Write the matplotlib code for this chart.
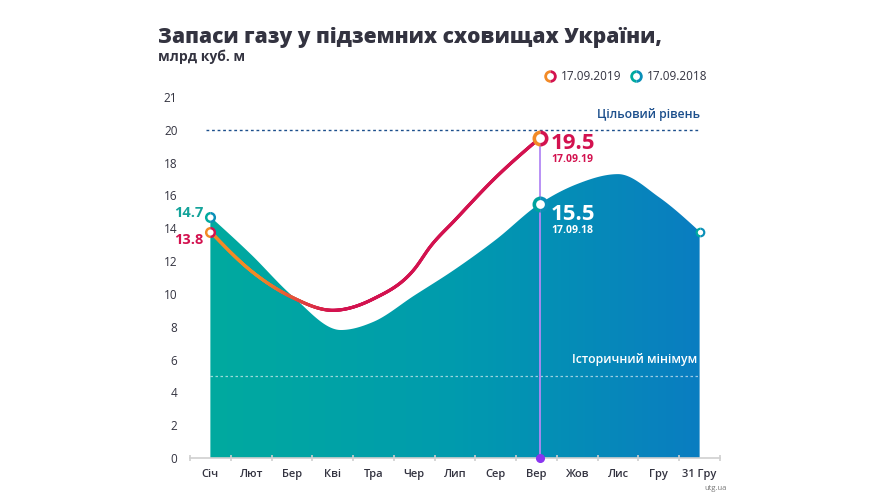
import numpy as np
import matplotlib
matplotlib.use('Agg')
import matplotlib.pyplot as plt
from matplotlib.patches import Polygon
from matplotlib.collections import LineCollection
from matplotlib.colors import LinearSegmentedColormap, to_rgb

plt.rcParams['font.family'] = ['Open Sans', 'DejaVu Sans']

# ---------------- data ----------------
months = ['Січ', 'Лют', 'Бер', 'Кві', 'Тра', 'Чер', 'Лип', 'Сер', 'Вер',
          'Жов', 'Лис', 'Гру', '31 Гру']
y_ticks = [0, 2, 4, 6, 8, 10, 12, 14, 16, 18, 20, 22]
y_tick_labels = ['0', '2', '4', '6', '8', '10', '12', '14', '16', '18', '20', '21']

# 2018 (area), x in month positions
x2018 = [0, 1, 2, 3.2, 4, 5, 6, 7, 8.08, 9, 10, 11, 12]
v2018 = [14.7, 12.4, 9.9, 7.8, 8.3, 9.9, 11.5, 13.3, 15.5, 16.7, 17.3, 15.9, 13.8]
# 2019 (line)
x2019 = [0, 1, 2, 3, 4, 5, 5.4, 6, 7, 8.08]
v2019 = [13.8, 11.4, 9.8, 9.0, 9.7, 11.5, 12.9, 14.5, 17.1, 19.5]

target_level = 20
hist_min = 5
sep_x = 8.08
label_2019 = '17.09.2019'
label_2018 = '17.09.2018'


def monotone_x(x, y, xs):
    x = np.asarray(x, float); y = np.asarray(y, float)
    h = np.diff(x); s = np.diff(y) / h
    n = len(x); m = np.zeros(n)
    for i in range(1, n - 1):
        p = (s[i - 1] * h[i] + s[i] * h[i - 1]) / (h[i - 1] + h[i])
        m[i] = (np.sign(s[i - 1]) + np.sign(s[i])) * min(abs(s[i - 1]), abs(s[i]), 0.5 * abs(p))
    m[0] = (3 * s[0] - m[1]) / 2
    m[-1] = (3 * s[-1] - m[-2]) / 2
    ys = np.empty_like(xs)
    idx = np.clip(np.searchsorted(x, xs) - 1, 0, n - 2)
    for k, xv in enumerate(xs):
        i = idx[k]
        t = (xv - x[i]) / h[i]
        h00 = 2 * t**3 - 3 * t**2 + 1; h10 = t**3 - 2 * t**2 + t
        h01 = -2 * t**3 + 3 * t**2; h11 = t**3 - t**2
        ys[k] = h00 * y[i] + h10 * h[i] * m[i] + h01 * y[i + 1] + h11 * h[i] * m[i + 1]
    return ys


fig = plt.figure(figsize=(8.74, 5.0), dpi=100)
ax = fig.add_axes([190 / 874, 1 - 458 / 500, 530 / 874, 361 / 500])
ax.set_xlim(-0.49, 12.49)
ax.set_ylim(0, 22)

teal = '#00AA9F'
blue = '#0A7DC1'
red = '#D3124F'
orange = '#F28A26'
dark = '#333340'
navy = '#1C4F8C'

# ---- area with horizontal gradient ----
xs18 = np.linspace(x2018[0], x2018[-1], 600)
ys18 = monotone_x(x2018, v2018, xs18)
poly = Polygon(np.column_stack([np.r_[xs18, xs18[-1], xs18[0]],
                                np.r_[ys18, 0, 0]]),
               closed=True, facecolor='none', edgecolor='none')
ax.add_patch(poly)
cmap_area = LinearSegmentedColormap.from_list('area', [teal, '#009BAE', blue])
grad = np.linspace(0, 1, 256).reshape(1, -1)
im = ax.imshow(grad, extent=(x2018[0], x2018[-1], 0, 22), aspect='auto',
               cmap=cmap_area, origin='lower', zorder=1)
im.set_clip_path(poly)

# ---- reference lines ----
ax.plot([-0.1, 12], [target_level, target_level], color=navy, lw=1.0,
        ls=(0, (2, 2)), zorder=2)
ax.text(12, target_level + 0.55, 'Цільовий рівень', color=navy, fontsize=8.8,
        fontweight='semibold', ha='right', va='bottom', zorder=5)
ax.plot([0, 12], [hist_min, hist_min], color='white', alpha=0.6, lw=0.9,
        ls=(0, (2, 2)), zorder=2)
ax.text(11.95, hist_min + 0.6, 'Історичний мінімум', color='white', fontsize=8.8,
        fontweight='semibold', ha='right', va='bottom', zorder=5)

# ---- vertical marker line ----
ax.plot([sep_x, sep_x], [0, v2019[-1]], color='#B388F5', lw=1.3, zorder=3)
ax.plot([sep_x], [0], 'o', color='#8A35F0', ms=5.5, zorder=6, clip_on=False)

# ---- 2019 line with gradient ----
xs19 = np.linspace(x2019[0], x2019[-1], 600)
ys19 = monotone_x(x2019, v2019, xs19)
pts = np.column_stack([xs19, ys19]).reshape(-1, 1, 2)
segs = np.concatenate([pts[:-1], pts[1:]], axis=1)
o = np.array(to_rgb(orange)); r = np.array(to_rgb(red))
tpos = np.clip((xs19[:-1] - 1.2) / 1.8, 0, 1)[:, None]
cols = o * (1 - tpos) + r * tpos
lc = LineCollection(segs, colors=cols, linewidths=2.3, capstyle='round', zorder=4)
ax.add_collection(lc)


def ring(x, y, c1, c2, size, ax_=ax, **kw):
    ax_.plot([x], [y], 'o', ms=size, fillstyle='left', markerfacecolor=c1,
             markerfacecoloralt=c2, markeredgewidth=0, zorder=7, **kw)
    ax_.plot([x], [y], 'o', ms=size * 0.55, color='white', markeredgewidth=0,
             zorder=8, **kw)


ring(0, v2018[0], teal, '#0A8FB8', 8, clip_on=False)
ring(0, v2019[0], orange, red, 8, clip_on=False)
ring(sep_x, v2019[-1], orange, red, 11.5)
ring(sep_x, v2018[8], '#00A39E', '#0A8FB8', 11.5)
ring(12, v2018[-1], teal, '#0A8FB8', 7, clip_on=False)

# ---- value labels ----
ax.annotate('14.7', (0, v2018[0]), xytext=(-5, 3), textcoords='offset points',
            color='#13A39A', fontsize=10.5, fontweight='bold', ha='right', va='center')
ax.annotate('13.8', (0, v2019[0]), xytext=(-5, -6), textcoords='offset points',
            color=red, fontsize=10.5, fontweight='bold', ha='right', va='center')
ax.annotate('19.5', (sep_x, v2019[-1]), xytext=(8, -4), textcoords='offset points',
            color=red, fontsize=16, fontweight='bold', ha='left', va='center')
ax.annotate('17.09.19', (sep_x, v2019[-1]), xytext=(8, -15.5), textcoords='offset points',
            color=red, fontsize=7.5, fontweight='bold', ha='left', va='center')
ax.annotate('15.5', (sep_x, v2018[8]), xytext=(8, -8), textcoords='offset points',
            color='white', fontsize=16, fontweight='bold', ha='left', va='center', zorder=9)
ax.annotate('17.09.18', (sep_x, v2018[8]), xytext=(8, -19), textcoords='offset points',
            color='white', fontsize=7.5, fontweight='bold', ha='left', va='center', zorder=9)

# ---- axes styling ----
for sp in ['left', 'right', 'top']:
    ax.spines[sp].set_visible(False)
ax.spines['bottom'].set_color('#D0D0D0')
ax.spines['bottom'].set_linewidth(1.2)
ax.set_yticks(y_ticks)
ax.set_yticklabels(y_tick_labels)
ax.tick_params(axis='y', length=0, pad=9, labelsize=8.5, labelcolor=dark)
ax.set_xticks(range(len(months)))
ax.set_xticklabels(months)
ax.tick_params(axis='x', which='major', length=0, pad=8, labelsize=8, labelcolor=dark)
for lbl in ax.get_xticklabels():
    lbl.set_fontweight('semibold')
ax.set_xticks(np.arange(-0.5, 12.6, 1), minor=True)
ax.tick_params(axis='x', which='minor', length=4, direction='inout', color='#D0D0D0', width=1.2)
ax.set_facecolor('none')

# ---- title, legend, source ----
fig.text(158 / 874, 1 - 37 / 500, 'Запаси газу у підземних сховищах України,',
         fontsize=15.1, fontweight='heavy', color=dark, ha='left', va='center')
fig.text(158 / 874, 1 - 57 / 500, 'млрд куб. м', fontsize=10, fontweight='bold',
         color=dark, ha='left', va='center')

lax = fig.add_axes([0, 0, 1, 1], facecolor='none')
lax.set_xlim(0, 874); lax.set_ylim(500, 0); lax.axis('off')
ring(550, 76, orange, red, 9, ax_=lax)
ring(636, 76, teal, '#0A8FB8', 9, ax_=lax)
lax.text(561, 76, label_2019, fontsize=8.5, color=dark, va='center', ha='left')
lax.text(647, 76, label_2018, fontsize=8.5, color=dark, va='center', ha='left')
lax.text(716, 488, 'utg.ua', fontsize=5.5, color='#777777', va='center', ha='center')

fig.savefig('out.png', dpi=100)
